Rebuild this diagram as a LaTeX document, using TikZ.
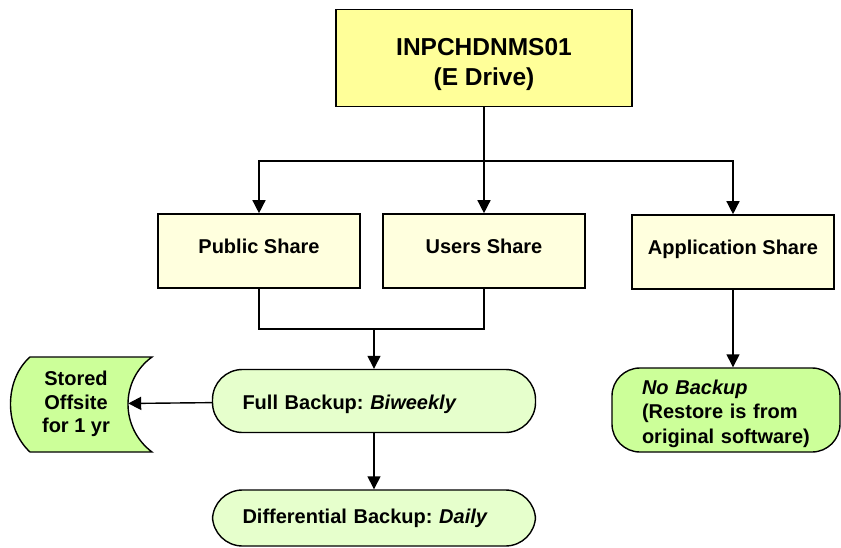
\documentclass[tikz,border=0pt]{standalone}
\usepackage{fontspec}
\setmainfont{Liberation Sans}
\usetikzlibrary{arrows.meta}
\definecolor{drivefill}{RGB}{255,255,153}
\definecolor{sharefill}{RGB}{255,255,222}
\definecolor{pillfill}{RGB}{230,255,204}
\definecolor{keepfill}{RGB}{204,255,153}
\frenchspacing

\begin{document}
\begin{tikzpicture}[x=1pt, y=-1pt, font=\bfseries\fontsize{20}{23.5}\selectfont, drive/.style={draw, line width=1.8pt, align=center, minimum width=296pt, minimum height=97pt, text height=61pt, fill=drivefill, font=\bfseries\fontsize{24.5}{30.5}\selectfont}, share/.style={draw, line width=1.6pt, align=center, minimum width=202pt, minimum height=74pt, text height=13pt, text depth=8pt, fill=sharefill}, pill/.style={draw, line width=1.4pt, rounded corners=30pt, minimum height=63pt, text width=263pt, inner xsep=30pt, align=left, fill=pillfill}, nobk/.style={draw, line width=1.4pt, rounded corners=28pt, minimum height=84pt, text width=168pt, inner xsep=30pt, text height=22pt, align=left, fill=keepfill, font=\bfseries\fontsize{20}{24.5}\selectfont}, line/.style={line width=1.4pt}, arr/.style={line, -{Triangle[length=13pt,width=13pt]}}]
\useasboundingbox (0,0) rectangle (841,548);
\node[drive] (srv) at (484,58) {INPCHDNMS01\\(E Drive)};
\node[share] (pub) at (259,251) {Public Share};
\node[share] (usr) at (484,251) {Users Share};
\node[share] (app) at (733,252) {Application Share};
\node[pill, text height=18pt, text depth=2pt] (full) at (374,401) {Full Backup: \textit{Biweekly}};
\node[pill, minimum height=56pt] (diff) at (374,518) {Differential Backup: \textit{Daily}};
\node[nobk] (nob) at (726,410) {\textit{No Backup}\\(Restore is from\\original software)};
% stored offsite shape
\draw[line width=1.4pt, fill=keepfill] (30,357) -- (152,357) .. controls (120,380) and (120,428) .. (152,452) -- (30,452) .. controls (4,428) and (4,380) .. (30,357) -- cycle;
\node[align=center, inner sep=0pt, minimum width=104pt, minimum height=95pt] (offsite) at (76,404) {Stored\\Offsite\\for 1 yr};
\coordinate (fork) at (484,161);
\coordinate (join) at (374,329);
\draw[line] (srv) -- (fork);
\foreach \n in {pub,usr,app}{\draw[arr] (fork) -| (\n);}
\draw[line] (pub) |- (join) -| (usr);
\draw[arr] (join) -- (full);
\draw[arr] (full) -- (diff);
\draw[arr] (full) -- (offsite);
\draw[arr] (app.south) -- (app.south |- nob.north);
\end{tikzpicture}
\end{document}
